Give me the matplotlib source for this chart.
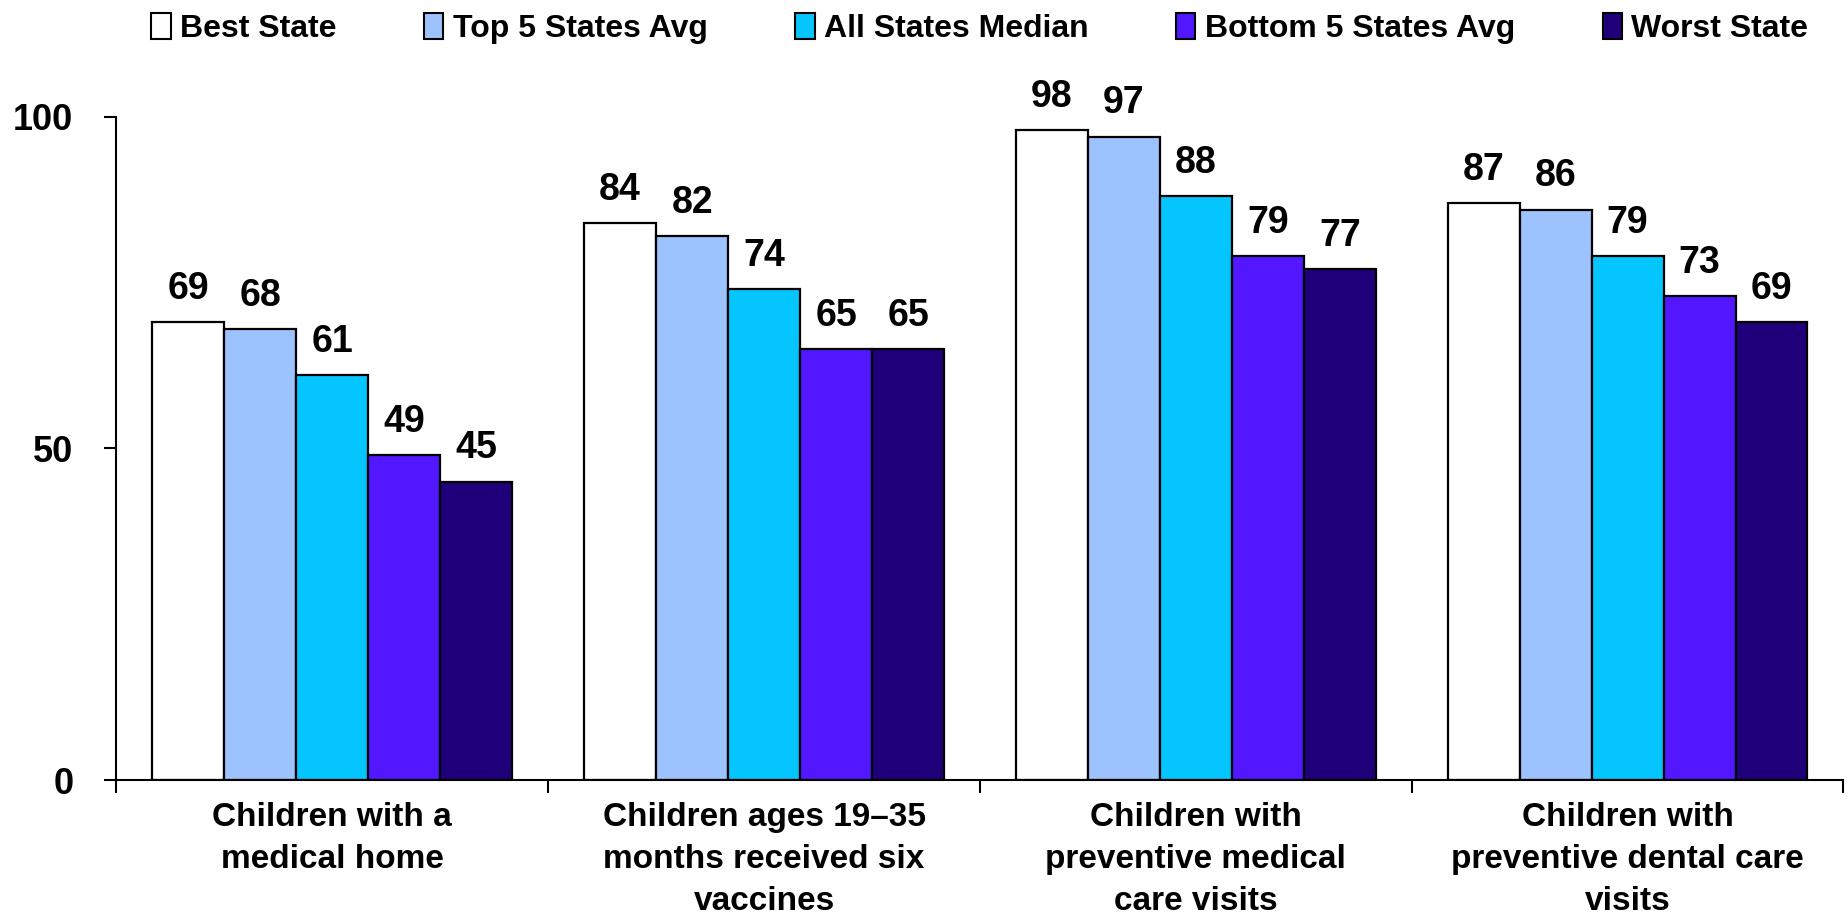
import numpy as np
import matplotlib
matplotlib.use('Agg')
import matplotlib.pyplot as plt
from matplotlib.patches import Patch

plt.rcParams['font.family'] = ['Liberation Sans', 'DejaVu Sans']

categories = ['Children with a\nmedical home',
              'Children ages 19\u201335\nmonths received six\nvaccines',
              'Children with\npreventive medical\ncare visits',
              'Children with\npreventive dental care\nvisits']
series = ['Best State', 'Top 5 States Avg', 'All States Median',
          'Bottom 5 States Avg', 'Worst State']
best_state = [69, 84, 98, 87]
top5_avg = [68, 82, 97, 86]
all_median = [61, 74, 88, 79]
bottom5_avg = [49, 65, 79, 73]
worst_state = [45, 65, 77, 69]
values = [best_state, top5_avg, all_median, bottom5_avg, worst_state]
colors = ['#FFFFFF', '#9DC3FF', '#05C5FF', '#5217FF', '#1F007A']

fig = plt.figure(figsize=(18.49, 9.19), dpi=100)
ax = fig.add_axes([0.063, 0.151, 0.934, 0.722])

centers = np.arange(len(categories)) + 0.5
w = 1 / 6
for i, (name, vals) in enumerate(zip(series, values)):
    x = centers + (i - 2) * w
    bars = ax.bar(x, vals, width=w, color=colors[i], edgecolor='black',
                  linewidth=1.6, label=name)
    for bar, v in zip(bars, vals):
        ax.annotate(str(v), (bar.get_x() + bar.get_width() / 2, v),
                    xytext=(0, 11), textcoords='offset points',
                    ha='center', va='bottom', fontsize=27, fontweight='bold')

ax.set_xlim(0, len(categories))
ax.set_ylim(0, 100)
ax.set_yticks([0, 50, 100])
ax.set_yticklabels(['0', '50', '100'], fontsize=26, fontweight='bold')
ax.set_xticks(np.arange(len(categories) + 1))
ax.set_xticklabels([])
ax.set_xticks(centers, minor=True)
ax.set_xticklabels(categories, minor=True, fontsize=24, fontweight='bold',
                   linespacing=1.45)
ax.tick_params(axis='x', which='major', direction='out', length=9, width=1.5)
ax.tick_params(axis='x', which='minor', length=0, pad=16)
ax.tick_params(axis='y', direction='out', length=9, width=1.5, pad=22)
for s in ['top', 'right']:
    ax.spines[s].set_visible(False)
for s in ['left', 'bottom']:
    ax.spines[s].set_linewidth(1.5)

handles = [Patch(facecolor=c, edgecolor='black', linewidth=1.5) for c in colors]
fig.legend(handles, series, loc='upper left', ncol=5, mode='expand',
           bbox_to_anchor=(0.075, 1.0, 0.91, 0.0), frameon=False,
           prop={'weight': 'bold', 'size': 23},
           handlelength=0.6, handleheight=0.9, handletextpad=0.3,
           borderaxespad=0.0)

fig.savefig('out.png', dpi=100)
